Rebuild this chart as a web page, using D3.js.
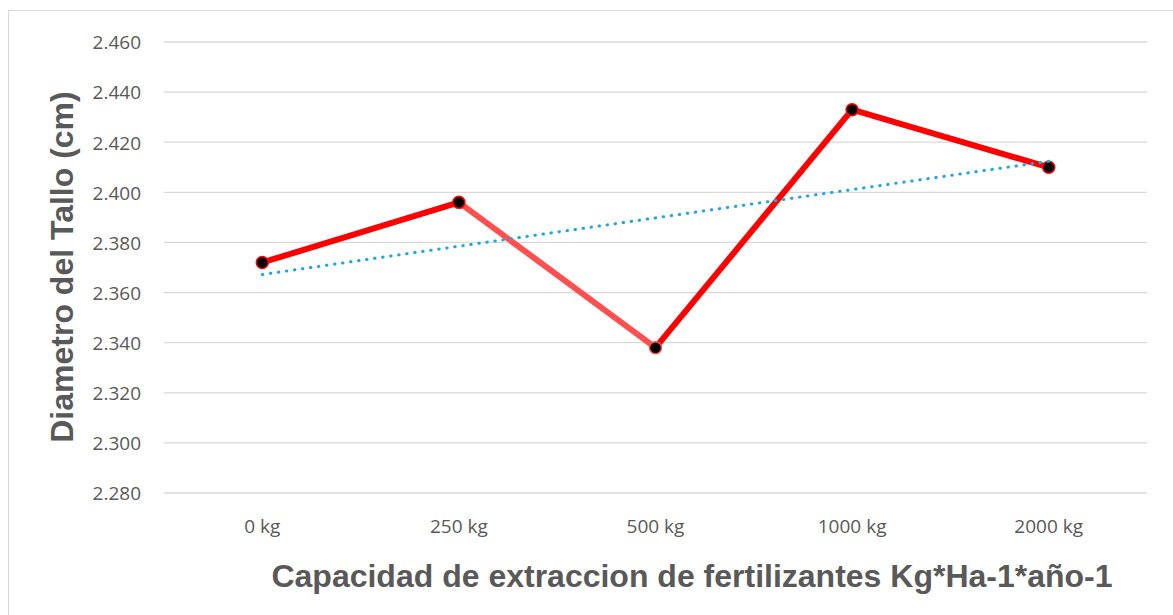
<!DOCTYPE html>
<html>
<head>
<meta charset="utf-8">
<script src="https://cdn.jsdelivr.net/npm/d3@7"></script>
<style>
  body { margin: 0; background: #fff; }
  text { fill: #595959; }
</style>
</head>
<body>
<div id="chart"></div>
<script>
var categories = ['0 kg', '250 kg', '500 kg', '1000 kg', '2000 kg']
var diametro = [2.372, 2.396, 2.338, 2.433, 2.410]
var segColors = ['#ff0000', '#ff5050', '#ff0000', '#ff0000']
var yTicks = [2.280, 2.300, 2.320, 2.340, 2.360, 2.380, 2.400, 2.420, 2.440, 2.460]

var w = 1173, h = 615
var svg = d3.select('#chart').append('svg')
    .attr('width', w)
    .attr('height', h)

// chart border
svg.append('rect')
    .attr('x', 8.5).attr('y', 10.5)
    .attr('width', 1180).attr('height', 620)
    .attr('fill', 'none')
    .attr('stroke', '#d9d9d9')

var x = d3.scaleBand().domain(categories).range([164, 1147])
var y = d3.scaleLinear().domain([2.280, 2.460]).range([493, 42])
var cx = function(c){ return x(c) + x.bandwidth() / 2 }

// gridlines
svg.selectAll('.grid')
    .data(yTicks)
    .enter()
    .append('line')
    .attr('class', 'grid')
    .attr('x1', 164).attr('x2', 1147)
    .attr('y1', function(d){ return y(d) })
    .attr('y2', function(d){ return y(d) })
    .attr('stroke', '#d9d9d9')
    .attr('stroke-width', 1.3)

// y axis labels
var yAxis = d3.axisLeft(y).tickValues(yTicks).tickFormat(d3.format('.3f')).tickSize(0).tickPadding(0)
var ga = svg.append('g').attr('transform', 'translate(141,0)').call(yAxis)
ga.select('.domain').remove()
ga.selectAll('text')
    .attr('font-family', 'Open Sans, sans-serif')
    .attr('font-size', 19)
    .attr('dy', '0.36em')
    .attr('fill', '#595959')

// x axis labels
var xAxis = d3.axisBottom(x).tickSize(0).tickPadding(0)
var gx = svg.append('g').call(xAxis)
gx.select('.domain').remove()
gx.selectAll('text')
    .attr('y', 533)
    .attr('dy', 0)
    .attr('font-family', 'Open Sans, sans-serif')
    .attr('font-size', 19)
    .attr('fill', '#595959')

// line segments
var pts = categories.map(function(c, i){ return [cx(c), y(diametro[i])] })
for (var i = 0; i < pts.length - 1; i++) {
  svg.append('line')
      .attr('x1', pts[i][0]).attr('y1', pts[i][1])
      .attr('x2', pts[i+1][0]).attr('y2', pts[i+1][1])
      .attr('stroke', segColors[i])
      .attr('stroke-width', 6)
}

// markers
svg.selectAll('.pt')
    .data(diametro)
    .enter()
    .append('circle')
    .attr('class', 'pt')
    .attr('cx', function(d, i){ return cx(categories[i]) })
    .attr('cy', function(d){ return y(d) })
    .attr('r', 6)
    .attr('fill', '#000')
    .attr('stroke', function(d, i){ return i == 2 ? '#ff5050' : '#ff0000' })
    .attr('stroke-width', 1.5)

// linear trend line
var n = diametro.length
var mx = (n + 1) / 2
var my = d3.mean(diametro)
var num = 0, den = 0
diametro.forEach(function(v, i){ num += (i + 1 - mx) * (v - my); den += (i + 1 - mx) * (i + 1 - mx) })
var slope = num / den
var trend = function(k){ return my + slope * (k - mx) }
svg.append('line')
    .attr('x1', cx(categories[0])).attr('y1', y(trend(1)))
    .attr('x2', cx(categories[n-1])).attr('y2', y(trend(n)))
    .attr('stroke', '#1fa8e0')
    .attr('stroke-width', 3)
    .attr('stroke-dasharray', '0.5,7.6')
    .attr('stroke-linecap', 'round')

// titles
svg.append('text')
    .attr('transform', 'translate(73,267) rotate(-90)')
    .attr('text-anchor', 'middle')
    .attr('font-family', 'Liberation Sans, Arial, sans-serif')
    .attr('font-weight', 'bold')
    .attr('font-size', 32)
    .text('Diametro del Tallo (cm)')

svg.append('text')
    .attr('x', 692).attr('y', 587)
    .attr('text-anchor', 'middle')
    .attr('font-family', 'Liberation Sans, Arial, sans-serif')
    .attr('font-weight', 'bold')
    .attr('font-size', 32)
    .text('Capacidad de extraccion de fertilizantes Kg*Ha-1*año-1')
</script>
</body>
</html>
